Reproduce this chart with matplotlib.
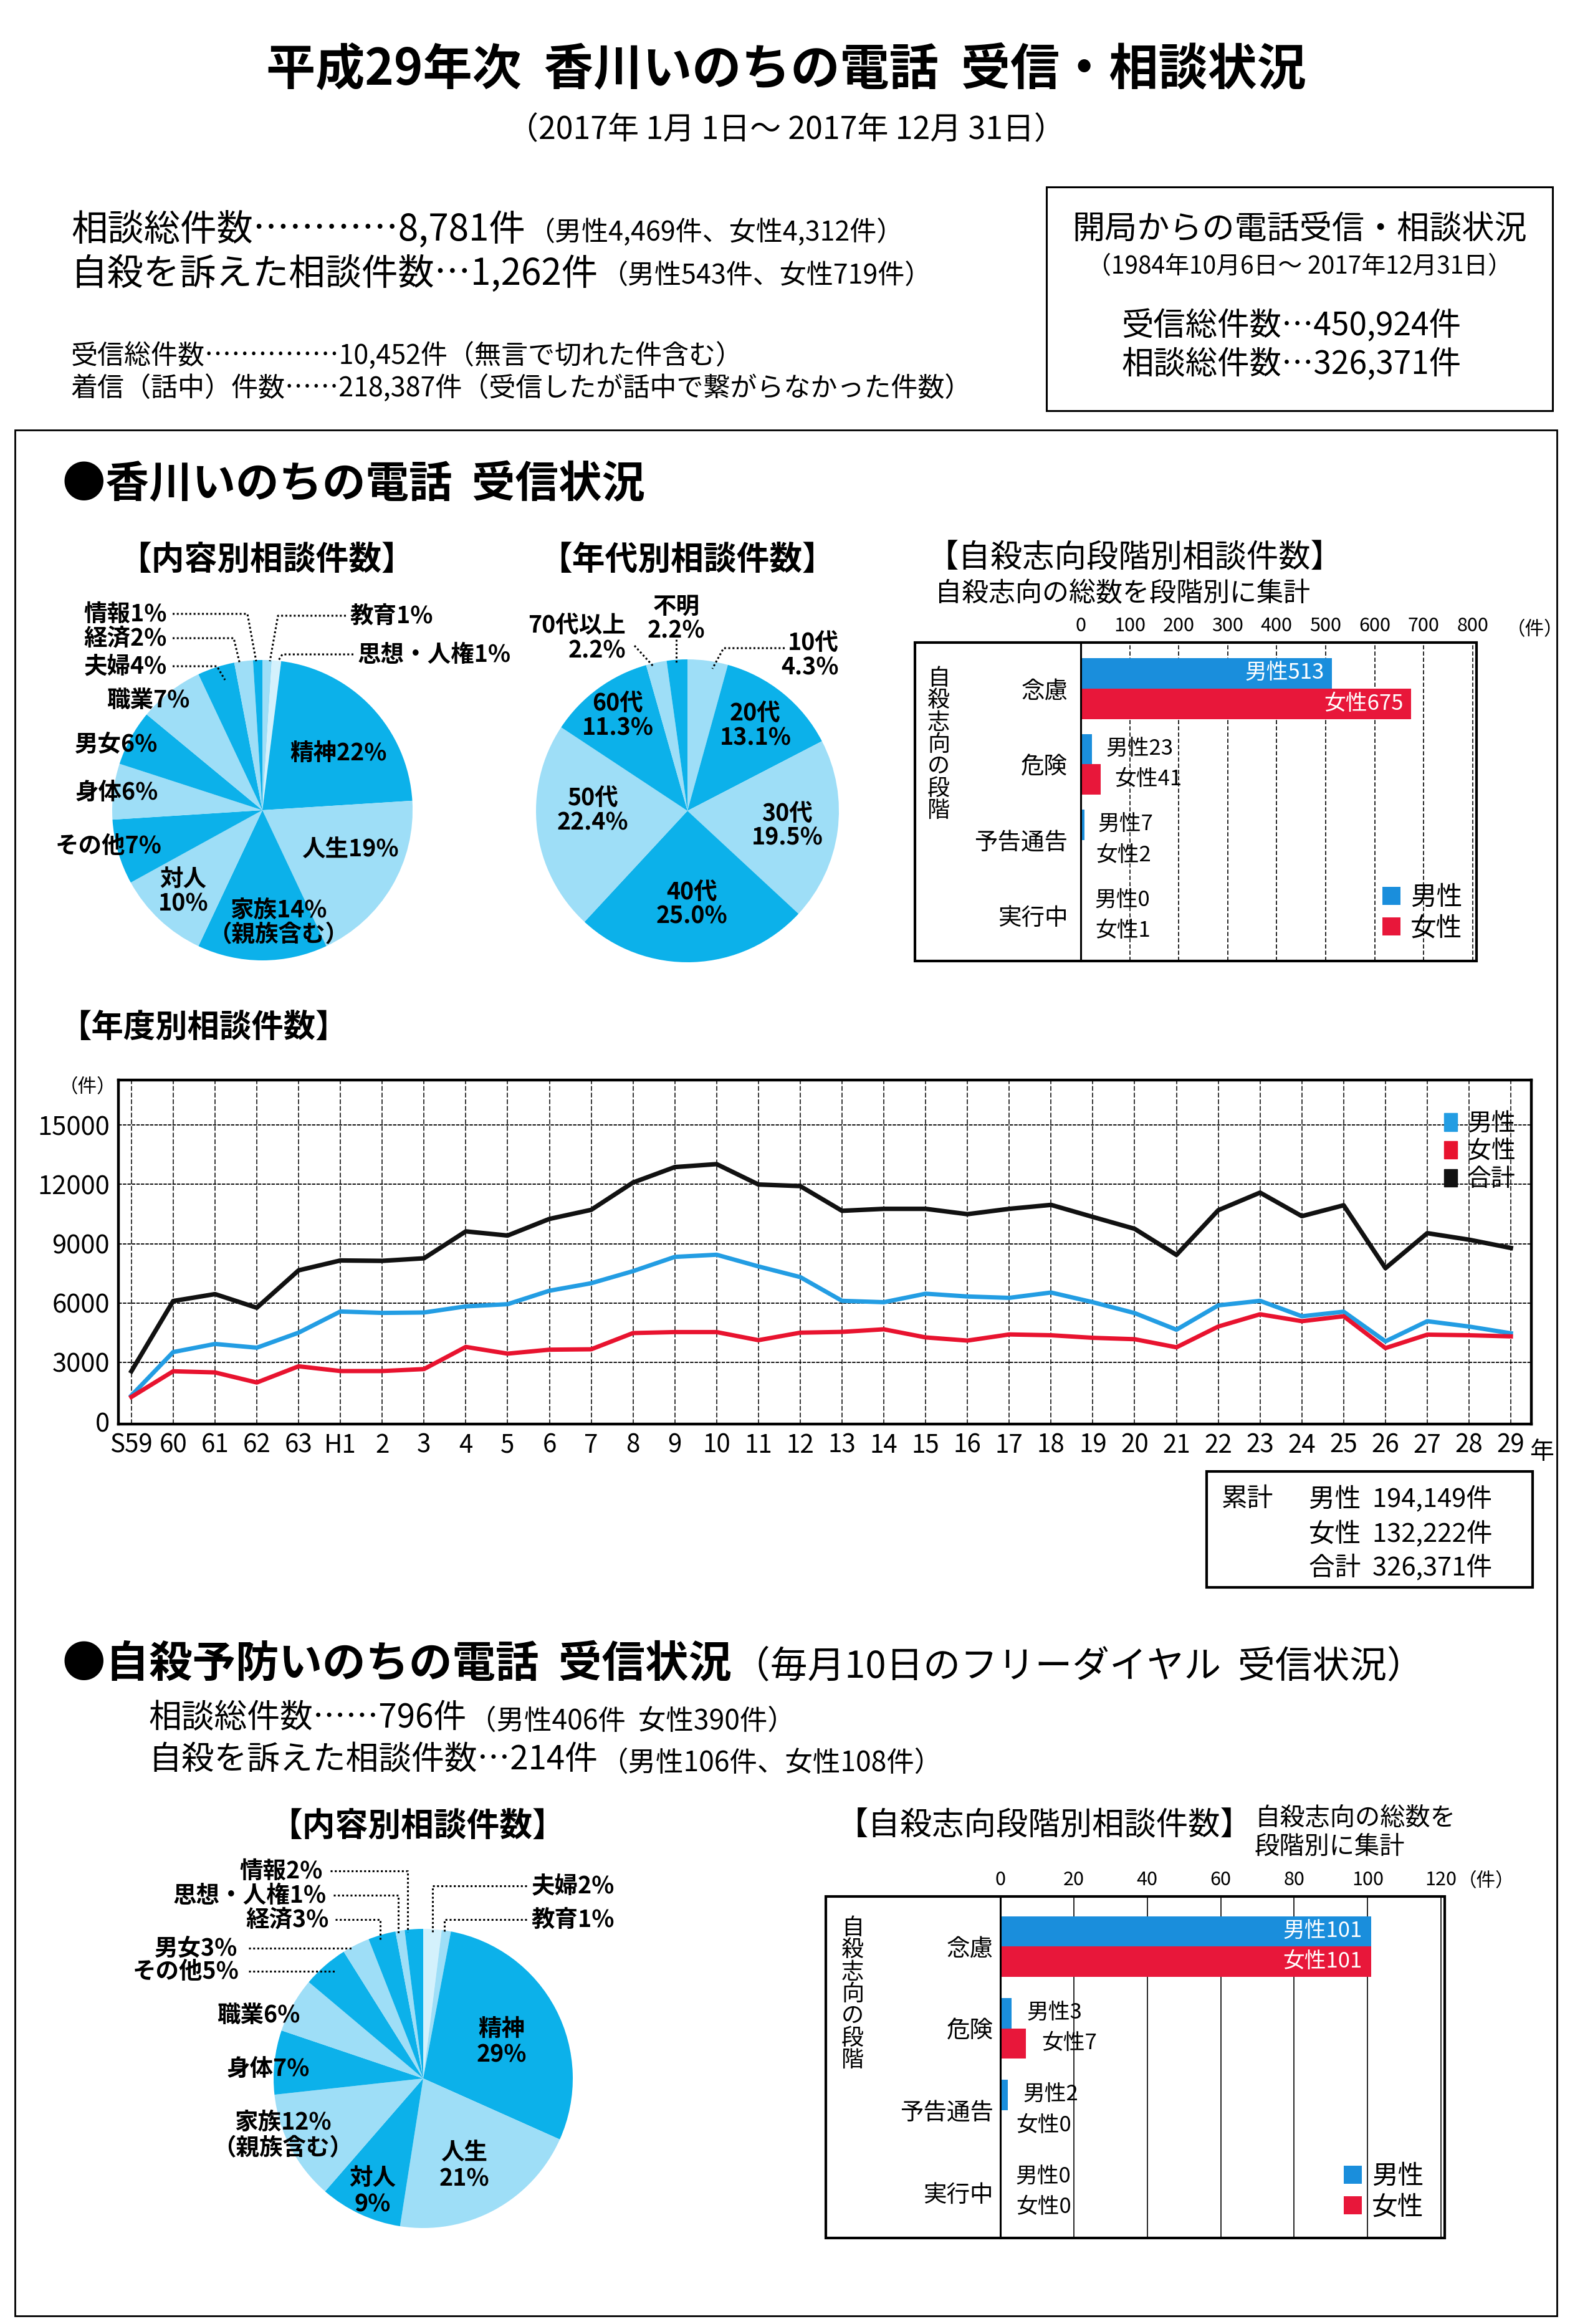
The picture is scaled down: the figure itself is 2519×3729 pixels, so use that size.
import matplotlib
matplotlib.use("Agg")
import matplotlib.pyplot as plt
from matplotlib.patches import Rectangle, Patch
from matplotlib.lines import Line2D

plt.rcParams['font.family'] = ['Noto Sans CJK JP', 'DejaVu Sans']

# ---- data ----
# 年度別相談件数 (S59 .. H29)
years = ['S59', '60', '61', '62', '63', 'H1'] + [str(i) for i in range(2, 30)]
male_year = [1320, 3520, 3930, 3740, 4500, 5570, 5500, 5520, 5830, 5940, 6620, 7000,
             7610, 8330, 8440, 7850, 7310, 6110, 6040, 6470, 6330, 6260, 6530, 6040,
             5490, 4650, 5880, 6110, 5330, 5560, 4060, 5080, 4810, 4469]
female_year = [1250, 2550, 2490, 1980, 2800, 2560, 2560, 2660, 3780, 3440, 3640, 3660,
               4480, 4530, 4530, 4120, 4500, 4540, 4670, 4260, 4100, 4410, 4370, 4240,
               4170, 3760, 4810, 5430, 5080, 5330, 3720, 4400, 4370, 4312]
total_year = [2550, 6100, 6450, 5760, 7650, 8150, 8130, 8260, 9620, 9410, 10250, 10710,
              12090, 12870, 13020, 11990, 11910, 10660, 10760, 10760, 10490, 10760, 10960, 10350,
              9750, 8430, 10690, 11580, 10390, 10940, 7760, 9530, 9200, 8781]

# 内容別相談件数 (香川いのちの電話), clockwise from 12 o'clock
content1 = ['教育', '思想・人権', '精神', '人生', '家族', '対人', 'その他', '身体', '男女', '職業', '夫婦', '経済', '情報']
content1_pct = [1, 1, 22, 19, 14, 10, 7, 6, 6, 7, 4, 2, 1]

# 年代別相談件数
ages = ['10代', '20代', '30代', '40代', '50代', '60代', '70代以上', '不明']
ages_pct = [4.3, 13.1, 19.5, 25.0, 22.4, 11.3, 2.2, 2.2]

# 内容別相談件数 (自殺予防いのちの電話)
content2 = ['夫婦', '教育', '精神', '人生', '対人', '家族', '身体', '職業', 'その他', '男女', '経済', '思想・人権', '情報']
content2_pct = [2, 1, 29, 21, 9, 12, 7, 6, 5, 3, 3, 1, 2]

# 自殺志向段階別相談件数
stages = ['念慮', '危険', '予告通告', '実行中']
stage_male1 = [513, 23, 7, 0]
stage_female1 = [675, 41, 2, 1]
stage_male2 = [101, 3, 2, 0]
stage_female2 = [101, 7, 0, 0]

DARK = '#0CB1EA'
LIGHT = '#9EDEF7'
PALE = '#D4F1FC'
BLUE = '#1A8EDC'
RED = '#E8173A'

W, H = 2519, 3729
fig = plt.figure(figsize=(W / 100, H / 100), dpi=100)
fig.patch.set_facecolor('white')
renderer = fig.canvas.get_renderer()


def fx(x):
    return x / W


def fy(y):
    return 1 - y / H


def put(x, y, s, size, ha='left', va='center', weight='normal', **kw):
    return fig.text(fx(x), fy(y), s, fontsize=size, ha=ha, va=va, fontweight=weight, **kw)


def put_after(prev, y, s, size, gap=4, **kw):
    # start the text right where the previous one ends
    x_end = prev.get_window_extent(renderer).x1
    return put(x_end + gap, y, s, size, **kw)


def box(x0, y0, x1, y1, lw):
    fig.add_artist(Rectangle((fx(x0), fy(y1)), (x1 - x0) / W, (y1 - y0) / H,
                             transform=fig.transFigure, fill=False, lw=lw, ec='black'))


def dots(pts):
    fig.add_artist(Line2D([fx(p[0]) for p in pts], [fy(p[1]) for p in pts],
                          transform=fig.transFigure, color='black', lw=2.2, ls=(0, (1, 1.2))))


def axes_px(x0, y0, x1, y1):
    return fig.add_axes([fx(x0), fy(y1), (x1 - x0) / W, (y1 - y0) / H])


# ---- header ----
put(1261, 112, '平成29年次  香川いのちの電話  受信・相談状況', 57, ha='center', weight='bold')
put(1261, 209, '（2017年 1月 1日～ 2017年 12月 31日）', 36, ha='center')

t = put(114, 369, '相談総件数…………8,781件', 42)
put_after(t, 373, '（男性4,469件、女性4,312件）', 31)
t = put(114, 440, '自殺を訴えた相談件数…1,262件', 42)
put_after(t, 444, '（男性543件、女性719件）', 31)
put(114, 571, '受信総件数……………10,452件（無言で切れた件含む）', 31)
put(114, 623, '着信（話中）件数……218,387件（受信したが話中で繋がらなかった件数）', 31)

box(1679, 300, 2491, 659, 2.2)
put(2085, 369, '開局からの電話受信・相談状況', 37.5, ha='center')
put(2085, 428, '（1984年10月6日～ 2017年12月31日）', 28, ha='center')
put(2072, 523, '受信総件数…450,924件', 37, ha='center')
put(2072, 585, '相談総件数…326,371件', 37, ha='center')

box(24, 690, 2498, 3716, 2.0)
put(100, 778, '●香川いのちの電話  受信状況', 50, weight='bold')


# ---- pies ----
def draw_pie(cx, cy, r, vals, cols):
    ax = axes_px(cx - r, cy - r, cx + r, cy + r)
    ax.pie(vals, colors=cols, startangle=90, counterclock=False, radius=1,
           wedgeprops=dict(linewidth=0))
    ax.set_xlim(-1, 1)
    ax.set_ylim(-1, 1)
    ax.axis('off')


def alt_colors(n, first):
    cols = []
    for i in range(n):
        cols.append(DARK if (i % 2 == 0) == (first == 'dark') else LIGHT)
    return cols


TS = 38
put(428, 898, '【内容別相談件数】', TS, ha='center', weight='bold')
cols1 = [LIGHT, PALE] + alt_colors(len(content1) - 2, 'dark')
draw_pie(421, 1300, 241, content1_pct, cols1)
lab1 = {c: f'{c}{p}%' for c, p in zip(content1, content1_pct)}
PS = 27
put(543, 1208, lab1['精神'], PS, ha='center', weight='bold')
put(562, 1362, lab1['人生'], PS, ha='center', weight='bold')
put(447, 1480, lab1['家族'] + '\n（親族含む）', PS, ha='center', weight='bold', linespacing=1.0)
put(294, 1430, '対人\n' + f'{content1_pct[5]}%', PS, ha='center', weight='bold', linespacing=1.0)
put(174, 1357, lab1['その他'], PS, ha='center', weight='bold')
put(187, 1272, lab1['身体'], PS, ha='center', weight='bold')
put(187, 1194, lab1['男女'], PS, ha='center', weight='bold')
put(238, 1123, lab1['職業'], PS, ha='center', weight='bold')
put(268, 1069, lab1['夫婦'], PS, ha='right', weight='bold')
put(268, 1024, lab1['経済'], PS, ha='right', weight='bold')
put(268, 985, lab1['情報'], PS, ha='right', weight='bold')
put(562, 988, lab1['教育'], PS, weight='bold')
put(574, 1050, lab1['思想・人権'], PS, weight='bold')
dots([(277, 1069), (348, 1069), (361, 1091)])
dots([(277, 1024), (375, 1024), (385, 1066)])
dots([(277, 985), (397, 985), (411, 1061)])
dots([(555, 988), (446, 988), (433, 1061)])
dots([(567, 1050), (453, 1050), (446, 1061)])

put(1103, 898, '【年代別相談件数】', TS, ha='center', weight='bold')
draw_pie(1103, 1301, 243, ages_pct, alt_colors(len(ages), 'light'))
lab2 = {a: f'{a}\n{p:.1f}%' for a, p in zip(ages, ages_pct)}
for a, (x, y) in zip(ages[1:6], [(1212, 1164), (1263, 1325), (1110, 1451), (951, 1300), (991, 1148)]):
    put(x, y, lab2[a], PS, ha='center', weight='bold', linespacing=1.0)
put(1085, 993, lab2['不明'], PS, ha='center', weight='bold', linespacing=1.0)
put(1004, 1024, lab2['70代以上'], PS, ha='right', weight='bold', linespacing=1.0, multialignment='right')
put(1346, 1051, lab2['10代'], PS, ha='right', weight='bold', linespacing=1.0, multialignment='right')
dots([(1085, 1026), (1085, 1063)])
dots([(1018, 1036), (1049, 1070)])
dots([(1259, 1040), (1161, 1040), (1143, 1073)])


# ---- stage bar charts ----
def draw_stage(frame, axbox, male, female, xmax, ticks, ylim, h, dashed, pad_pt, fs):
    box(*frame, 3.0)
    ax = axes_px(*axbox)
    y = list(range(len(stages)))
    bm = ax.barh([v - h / 2 for v in y], male, height=h, color=BLUE, label='男性')
    bf = ax.barh([v + h / 2 for v in y], female, height=h, color=RED, label='女性')
    ax.set_xlim(0, xmax)
    ax.set_ylim(*ylim)
    ax.xaxis.tick_top()
    ax.set_xticks(ticks)
    ax.set_xticklabels([str(t) for t in ticks], fontsize=22)
    ax.set_yticks(y)
    ax.set_yticklabels(stages, fontsize=27)
    ax.tick_params(length=0, pad=pad_pt)
    ax.tick_params(axis='x', pad=8)
    for t in ticks[1:]:
        ax.axvline(t, color='black', lw=1.2, ls=(0, (4, 2)) if dashed else '-', zorder=0)
    for s in ['top', 'right', 'bottom']:
        ax.spines[s].set_visible(False)
    ax.spines['left'].set_linewidth(2.2)
    for vals, name, off in [(male, '男性', -h / 2), (female, '女性', h / 2)]:
        for i, v in enumerate(vals):
            if v > 0.3 * xmax:
                ax.text(v - 0.02 * xmax, i + off, f'{name}{v}', color='white', fontsize=fs,
                        ha='right', va='center')
            else:
                ax.text(v + 0.035 * xmax, i + off, f'{name}{v}', color='black', fontsize=fs,
                        ha='left', va='center')
    return ax, bm, bf


put(1487, 896, '【自殺志向段階別相談件数】', 37)
put(1500, 953, '自殺志向の総数を段階別に集計', 31)
ax, bm, bf = draw_stage((1468, 1031, 2369, 1542), (1734, 1031, 2369, 1542),
                        stage_male1, stage_female1, 808, [0, 100, 200, 300, 400, 500, 600, 700, 800],
                        (3.6, -0.61), 0.4, True, 15, 25)
put(2462, 1011, '（件）', 22, ha='center')
put(1506, 1195, '\n'.join('自殺志向の段階'), 26, ha='center', linespacing=0.98)
ax.legend(handles=[bm, bf], loc='center left', bbox_to_anchor=(fx(2180), fy(1465)),
          bbox_transform=fig.transFigure, frameon=False, fontsize=30, handlelength=0.7,
          handleheight=0.7, handletextpad=0.4, labelspacing=0.2)

# ---- yearly line chart ----
put(95, 1649, '【年度別相談件数】', 37, weight='bold')
axl = axes_px(190, 1733, 2457, 2285)
xs = list(range(len(years)))
l1, = axl.plot(xs, male_year, color='#239DE3', lw=5, label='男性', zorder=3)
l2, = axl.plot(xs, female_year, color='#E8132F', lw=5, label='女性', zorder=3)
l3, = axl.plot(xs, total_year, color='#111111', lw=5.2, label='合計', zorder=3)
axl.set_xlim(-0.31, 33.49)
axl.set_ylim(-120, 17270)
axl.set_yticks([0, 3000, 6000, 9000, 12000, 15000])
axl.set_yticklabels(['0', '3000', '6000', '9000', '12000', '15000'], fontsize=30)
axl.set_xticks(xs)
axl.set_xticklabels(years, fontsize=29)
axl.tick_params(length=0, pad=10)
for x in xs:
    axl.axvline(x, color='black', lw=1.1, ls=(0, (5, 2)), zorder=1)
for yv in [3000, 6000, 9000, 12000, 15000]:
    axl.axhline(yv, color='black', lw=1.3, ls=(0, (3, 1)), zorder=1)
for s in axl.spines.values():
    s.set_linewidth(3.2)
put(140, 1745, '（件）', 22, ha='center')
put(2474, 2330, '年', 28, ha='center')
axl.legend(handles=[Patch(color=l1.get_color(), label=l1.get_label()),
                    Patch(color=l2.get_color(), label=l2.get_label()),
                    Patch(color=l3.get_color(), label=l3.get_label())],
           loc='upper left', bbox_to_anchor=(fx(2282), fy(1748)), bbox_transform=fig.transFigure,
           frameon=False, fontsize=28, handlelength=0.55, handleheight=0.75, handletextpad=0.4,
           labelspacing=0.12)

box(1936, 2361, 2459, 2547, 3.0)
put(1960, 2406, '累計', 30)
put(2100, 2406, '男性  194,149件', 30)
put(2100, 2462, '女性  132,222件', 30)
put(2100, 2515, '合計  326,371件', 30)

# ---- section 2 ----
t = put(100, 2671, '●自殺予防いのちの電話  受信状況', 50, weight='bold')
put_after(t, 2675, '（毎月10日のフリーダイヤル  受信状況）', 43, gap=2)
t = put(238, 2757, '相談総件数……796件', 38)
put_after(t, 2762, '（男性406件  女性390件）', 32)
t = put(238, 2824, '自殺を訴えた相談件数…214件', 38)
put_after(t, 2829, '（男性106件、女性108件）', 32)

put(670, 2930, '【内容別相談件数】', TS, ha='center', weight='bold')
cols3 = [PALE, LIGHT] + alt_colors(len(content2) - 2, 'dark')
draw_pie(679, 3335, 240, content2_pct, cols3)
lab3 = {c: f'{c}{p}%' for c, p in zip(content2, content2_pct)}
put(805, 3276, '精神\n' + f'{content2_pct[2]}%', PS, ha='center', weight='bold', linespacing=1.1)
put(745, 3475, '人生\n' + f'{content2_pct[3]}%', PS, ha='center', weight='bold', linespacing=1.1)
put(598, 3516, '対人\n' + f'{content2_pct[4]}%', PS, ha='center', weight='bold', linespacing=1.1)
put(454, 3426, lab3['家族'] + '\n（親族含む）', PS, ha='center', weight='bold', linespacing=1.05)
put(430, 3320, lab3['身体'], PS, ha='center', weight='bold')
put(415, 3233, lab3['職業'], PS, ha='center', weight='bold')
put(384, 3163, lab3['その他'], PS, ha='right', weight='bold')
put(381, 3126, lab3['男女'], PS, ha='right', weight='bold')
put(528, 3080, lab3['経済'], PS, ha='right', weight='bold')
put(524, 3041, lab3['思想・人権'], PS, ha='right', weight='bold')
put(518, 3002, lab3['情報'], PS, ha='right', weight='bold')
put(853, 3026, lab3['夫婦'], PS, weight='bold')
put(853, 3080, lab3['教育'], PS, weight='bold')
dots([(399, 3163), (538, 3163)])
dots([(399, 3126), (566, 3126)])
dots([(538, 3080), (610, 3080), (610, 3113)])
dots([(535, 3041), (639, 3041), (639, 3103)])
dots([(530, 3002), (654, 3002), (654, 3100)])
dots([(845, 3026), (694, 3026), (694, 3100)])
dots([(845, 3080), (713, 3080), (713, 3100)])

put(1342, 2930, '【自殺志向段階別相談件数】', 37)
put(2013, 2917, '自殺志向の総数を', 29)
put(2013, 2964, '段階別に集計', 29)
ax2, bm2, bf2 = draw_stage((1325, 3043, 2318, 3591), (1605, 3043, 2318, 3591),
                           stage_male2, stage_female2, 121, [0, 20, 40, 60, 80, 100, 120],
                           (3.56, -0.61), 0.37, False, 8, 25)
put(2385, 3019, '（件）', 22, ha='center')
put(1368, 3200, '\n'.join('自殺志向の段階'), 26, ha='center', linespacing=0.98)
ax2.legend(handles=[bm2, bf2], loc='center left', bbox_to_anchor=(fx(2118), fy(3517)),
           bbox_transform=fig.transFigure, frameon=False, fontsize=30, handlelength=0.7,
           handleheight=0.7, handletextpad=0.4, labelspacing=0.2)

fig.savefig('out.png', dpi=100, facecolor='white')
